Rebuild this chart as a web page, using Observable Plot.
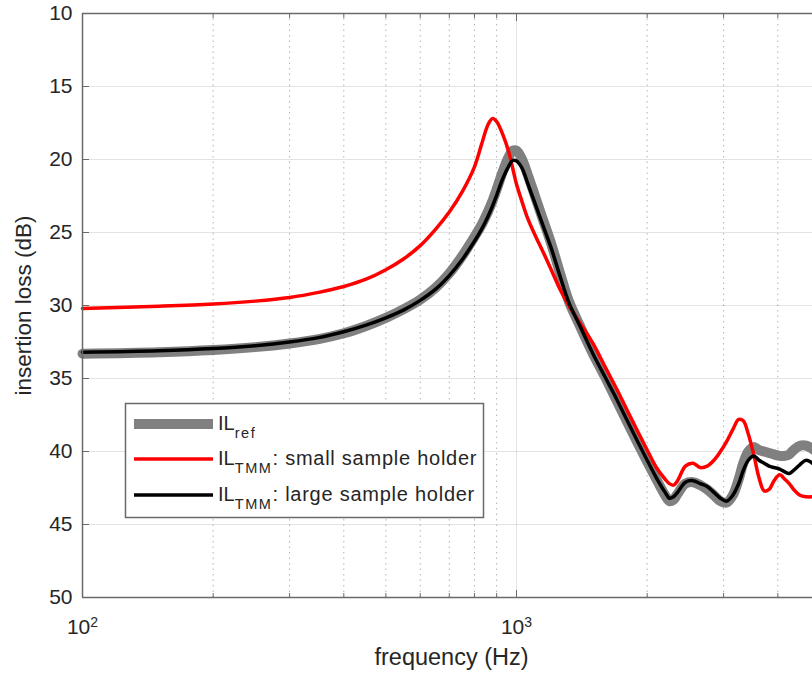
<!DOCTYPE html>
<html><head><meta charset="utf-8">
<script src="https://cdn.jsdelivr.net/npm/d3@7"></script>
<script src="https://cdn.jsdelivr.net/npm/@observablehq/plot@0.6"></script>
<style>
body{margin:0;background:#fff;}
#wrap{position:relative;width:812px;height:675px;overflow:hidden;background:#fff;}
</style></head><body><div id="wrap"></div>
<script>
// ---- data ----
const freq = [100,150,200,250,300,350,400,450,500,550,
  600,650,700,750,800,830,860,880,900,930,
  960,980,1000,1030,1060,1100,1150,1200,1260,1320,
  1400,1500,1600,1700,1800,1900,2000,2100,2200,2250,
  2300,2350,2450,2550,2650,2750,2850,2950,3050,3150,
  3250,3330,3420,3520,3620,3720,3820,3920,4040,4150,
  4250,4350,4500,4650,4850];
const ilRef = [33.3,33.2,33.05,32.85,32.6,32.3,31.9,31.4,30.85,30.25,
  29.6,28.8,27.8,26.6,25.3,24.5,23.55,22.85,22.05,20.8,
  19.8,19.4,19.4,20.0,21.0,22.4,24.1,25.7,27.8,29.7,
  31.4,33.3,34.9,36.5,38.0,39.4,40.7,41.9,43.0,43.4,
  43.3,42.9,42.2,42.1,42.3,42.6,43.0,43.4,43.5,43.0,
  41.9,40.8,40.0,39.7,39.9,40.0,40.1,40.2,40.3,40.3,
  40.2,39.9,39.6,39.6,39.9];
const ilSmall = [30.2,30.05,29.9,29.7,29.45,29.1,28.7,28.2,27.55,26.8,
  25.9,24.8,23.6,22.2,20.5,19.0,17.6,17.2,17.4,18.3,
  19.5,20.6,21.7,22.9,24.0,25.1,26.3,27.5,28.9,30.0,
  31.2,32.6,34.2,35.7,37.2,38.6,39.9,41.1,41.9,42.2,
  42.3,42.0,41.0,40.8,41.1,41.0,40.6,40.0,39.3,38.5,
  37.8,37.9,38.8,40.2,41.8,42.7,42.6,42.0,41.6,41.9,
  42.2,42.6,43.0,43.1,43.1];
const ilLarge = [33.2,33.1,32.95,32.75,32.5,32.2,31.8,31.35,30.85,30.3,
  29.65,28.9,27.95,26.85,25.6,24.8,23.88,23.2,22.45,21.3,
  20.45,20.07,20.1,20.6,21.6,22.9,24.5,26.0,28.0,29.8,
  31.4,33.3,34.9,36.4,37.9,39.3,40.6,41.8,42.8,43.2,
  43.1,42.8,42.1,42.0,42.2,42.4,42.8,43.2,43.4,43.0,
  42.2,41.3,40.6,40.3,40.6,40.8,41.0,41.1,41.2,41.4,
  41.5,41.3,40.9,40.6,40.9];
const yTicks = [10,15,20,25,30,35,40,45,50];
const xMajor = [100,1000];
const xMinor = [200,300,400,500,600,700,800,900,2000,3000,4000];
const seriesNames = ["ref","small","large"];
const seriesColors = ["#808080","#ff0000","#000000"];
const seriesWidths = [10,3.5,3.5];
const legendSub = ["ref","TMM","TMM"];
const legendRest = ["",": small sample holder",": large sample holder"];

const allValues = [ilRef, ilSmall, ilLarge];
const rows = seriesNames.flatMap((s,k) => freq.map((f,i) => ({f, v: allValues[k][i], s})));

const font = "'Liberation Sans', Arial, Helvetica, sans-serif";
const axisColor = "#6a6a6a";
const xMax = 4808;

const noText = () => "";
const chart = Plot.plot({
  width: 812, height: 675,
  marginLeft: 82, marginRight: 0, marginTop: 13, marginBottom: 78,
  style: {fontFamily: font, fontSize: "21px", color: "#262626", background: "#fff"},
  x: {type: "log", domain: [100, xMax]},
  y: {domain: [10, 50], reverse: true},
  marks: [
    // grid
    Plot.ruleY(yTicks.slice(1,-1), {stroke: "#000", strokeOpacity: 0.11, strokeWidth: 1}),
    Plot.ruleX([1000], {stroke: "#000", strokeOpacity: 0.11, strokeWidth: 1}),
    Plot.ruleX(xMinor, {stroke: "#000", strokeOpacity: 0.3, strokeWidth: 1, strokeDasharray: "1.5,4"}),
    // ticks (inward)
    Plot.axisY({ticks: yTicks, tickSize: 7, dx: 7, tickFormat: noText, label: null, stroke: axisColor}),
    Plot.axisX({anchor: "bottom", ticks: xMajor, tickSize: 7, dy: -7, tickFormat: noText, label: null, stroke: axisColor}),
    Plot.axisX({anchor: "bottom", ticks: xMinor, tickSize: 4, dy: -4, tickFormat: noText, label: null, stroke: axisColor}),
    Plot.axisX({anchor: "top", ticks: xMajor, tickSize: 7, dy: 7, tickFormat: noText, label: null, stroke: axisColor}),
    Plot.axisX({anchor: "top", ticks: xMinor, tickSize: 4, dy: 4, tickFormat: noText, label: null, stroke: axisColor}),
    // tick labels
    Plot.axisY({ticks: yTicks, tickSize: 0, tickPadding: 10, label: null, fill: "#262626"}),
    Plot.axisX({anchor: "bottom", ticks: xMajor, tickSize: 0, tickPadding: 22, label: null, fill: "#262626",
      tickFormat: d => String(Math.round(Math.log10(d)))}),
    // axis titles
    Plot.text(["frequency (Hz)"], {text: d => d, frameAnchor: "bottom", dy: 60, dx: 4, textAnchor: "middle", lineAnchor: "middle", fontSize: 23.5, fill: "#262626"}),
    Plot.text(["insertion loss (dB)"], {text: d => d, frameAnchor: "left", rotate: -90, dx: -59, textAnchor: "middle", lineAnchor: "middle", fontSize: 22.5, fill: "#262626"}),
    // data lines
    ...seriesNames.map((s,k) => Plot.line(rows.filter(r => r.s === s), {
      x: "f", y: "v", stroke: seriesColors[k], strokeWidth: seriesWidths[k], curve: "catmull-rom"
    })),
    // frame
    Plot.ruleX([100], {stroke: axisColor, strokeWidth: 1.5}),
    Plot.ruleY([10, 50], {stroke: axisColor, strokeWidth: 1.5})
  ]
});

// superscript exponents for the log tick labels
d3.select(chart).selectAll('g[aria-label="x-axis tick label"] text').each(function() {
  const t = d3.select(this);
  const e = t.text();
  if (!e) return;
  t.text("10");
  t.append("tspan").attr("dy", "-0.5em").attr("font-size", "14px").text(e);
});

const wrap = document.getElementById("wrap");
wrap.appendChild(chart);

// legend
const leg = d3.select(wrap).append("svg")
  .attr("width", 812).attr("height", 675)
  .style("position", "absolute").style("left", "0px").style("top", "0px")
  .style("font-family", font);
leg.append("rect").attr("x", 125.5).attr("y", 403.5).attr("width", 358).attr("height", 114)
  .attr("fill", "#fff").attr("stroke", axisColor).attr("stroke-width", 1.5);
const rowY = [424, 459, 495];
seriesNames.forEach((s, k) => {
  leg.append("line").attr("x1", 134).attr("x2", 213).attr("y1", rowY[k]).attr("y2", rowY[k])
    .attr("stroke", seriesColors[k]).attr("stroke-width", seriesWidths[k]);
  const t = leg.append("text").attr("x", 218).attr("y", rowY[k] + 5.5)
    .attr("font-size", 20).attr("fill", "#262626").text("IL");
  t.append("tspan").attr("dy", 8.5).attr("font-size", 14.5).attr("letter-spacing", 1.6).text(legendSub[k]);
  if (legendRest[k]) t.append("tspan").attr("dy", -8.5).attr("font-size", 20).attr("letter-spacing", 0.75).text(legendRest[k]);
});
</script></body></html>
